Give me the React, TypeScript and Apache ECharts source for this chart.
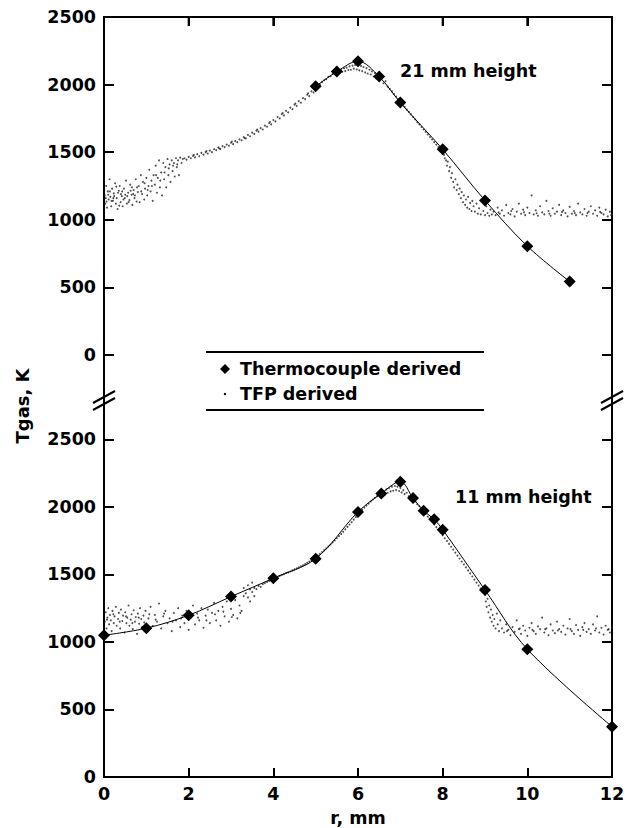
import React, { useEffect, useRef } from "react";
import * as echarts from "echarts";

// Thermocouple derived, 21 mm height: [r (mm), T (K)]
const TC_21: number[][] = [
  [5.0, 1987], [5.5, 2096], [6.0, 2173], [6.5, 2059], [7.0, 1867],
  [8.0, 1521], [9.0, 1143], [10.0, 805], [11.0, 543],
];

// Thermocouple derived, 11 mm height
const TC_11: number[][] = [
  [0, 1050], [1, 1102], [2, 1198], [3, 1336], [4, 1472], [5, 1617],
  [6.0, 1963], [6.55, 2100], [7.0, 2187], [7.3, 2066], [7.55, 1972],
  [7.8, 1908], [8.0, 1832], [9.0, 1385], [10.0, 946], [12.0, 373],
];

// TFP derived, 21 mm height (read from the dot cloud)
const TFP_21: number[][] = [
  [0.02,1180],[0.03,1120],[0.05,1250],[0.07,1090],[0.09,1210],[0.11,1150],[0.13,1300],[0.15,1170],[0.17,1100],[0.19,1230],
  [0.21,1140],[0.23,1195],[0.26,1270],[0.28,1120],[0.3,1160],[0.32,1080],[0.35,1215],[0.37,1250],[0.39,1130],[0.42,1175],
  [0.44,1100],[0.47,1230],[0.49,1160],[0.52,1290],[0.54,1120],[0.57,1200],[0.6,1145],[0.62,1260],[0.65,1185],[0.67,1110],
  [0.7,1220],[0.72,1160],[0.75,1300],[0.77,1135],[0.8,1205],
  [0.04,1160],[0.1,1185],[0.18,1140],[0.24,1175],[0.33,1200],[0.4,1190],[0.46,1150],[0.55,1175],[0.63,1215],[0.69,1190],[0.78,1240],
  [0.06,1135],[0.14,1210],[0.22,1160],[0.29,1245],[0.36,1105],[0.43,1210],[0.5,1185],[0.58,1130],[0.66,1240],[0.73,1180],
  [0.82,1250],[0.84,1130],[0.87,1330],[0.9,1190],[0.92,1280],[0.95,1150],[0.97,1230],[1.0,1310],[1.02,1180],[1.05,1250],
  [1.07,1370],[1.1,1210],[1.12,1290],[1.15,1140],[1.17,1330],[1.2,1260],[1.22,1400],[1.25,1200],[1.27,1310],[1.3,1440],
  [1.32,1240],[1.35,1350],[1.37,1180],[1.4,1420],[1.42,1300],[1.45,1390],[1.47,1240],[1.5,1450],[1.52,1330],[1.55,1410],
  [1.57,1280],[1.6,1440],[1.62,1360],[1.65,1420],[1.67,1320],[1.7,1455],[1.72,1390],[1.75,1440],[1.77,1330],[1.8,1460],
  [1.83,1420],[1.86,1450],
  [0.88,1210],[0.96,1270],[1.03,1220],[1.13,1250],[1.23,1330],[1.33,1290],[1.43,1350],[1.53,1380],[1.63,1400],[1.73,1410],
  [1.9,1455],[1.95,1445],[2.0,1465],[2.05,1455],[2.1,1472],[2.15,1462],[2.2,1485],[2.25,1470],[2.3,1495],[2.35,1482],
  [2.4,1500],[2.45,1490],[2.5,1512],[2.55,1500],[2.6,1522],[2.65,1515],[2.7,1535],[2.75,1525],[2.8,1545],[2.85,1538],
  [2.9,1556],[2.95,1548],[3.0,1570],[3.05,1560],[3.1,1582],[3.15,1575],[3.2,1595],[3.25,1588],[3.3,1612],[3.35,1602],
  [3.4,1628],[3.45,1618],[3.5,1645],[3.55,1636],[3.6,1660],[3.65,1652],[3.7,1678],[3.75,1668],[3.8,1696],[3.85,1688],
  [3.9,1716],[3.95,1706],[4.0,1738],[4.05,1728],[4.1,1760],[4.15,1750],[4.2,1782],[4.25,1772],[4.3,1806],[4.35,1795],
  [4.4,1830],[4.45,1818],[4.5,1852],[4.55,1842],[4.6,1878],[4.65,1866],[4.7,1900],[4.75,1892],[4.8,1925],[4.85,1915],
  [4.9,1950],[4.95,1942],[5.0,1978],
  [2.12,1480],[2.42,1508],[2.72,1527],[3.02,1578],[3.32,1605],[3.62,1668],[3.92,1723],[4.22,1790],[4.52,1860],[4.82,1935],
  [5.05,1995],[5.1,2002],[5.15,2018],[5.2,2032],[5.25,2040],[5.3,2058],[5.35,2062],[5.4,2078],[5.45,2084],[5.5,2095],
  [5.55,2088],[5.6,2108],[5.63,2095],[5.67,2120],[5.7,2100],[5.73,2125],[5.77,2108],[5.8,2135],[5.83,2110],[5.87,2140],
  [5.9,2118],[5.93,2145],[5.97,2112],[6.0,2140],[6.03,2105],[6.07,2138],[6.1,2100],[6.13,2130],[6.17,2090],[6.2,2122],
  [6.23,2082],[6.27,2110],[6.3,2075],[6.33,2098],[6.37,2060],[6.4,2085],[6.43,2045],[6.47,2070],[6.5,2035],[6.55,2050],
  [6.6,2010],[6.65,2025],[6.7,1985],[6.75,1968],[6.8,1950],[6.85,1930],[6.9,1912],[6.95,1892],[7.0,1872],
  [7.05,1852],[7.1,1835],[7.15,1815],[7.2,1798],[7.25,1780],[7.3,1760],[7.35,1742],[7.4,1722],[7.45,1706],[7.5,1686],
  [7.55,1668],[7.6,1650],[7.65,1632],[7.7,1612],[7.75,1595],[7.8,1575],[7.85,1556],[7.9,1538],[7.95,1520],[8.0,1500],
  [8.03,1480],[8.05,1455],[8.08,1440],[8.1,1400],[8.12,1430],[8.15,1360],[8.17,1390],[8.2,1310],[8.22,1345],[8.25,1280],
  [8.27,1240],[8.3,1300],[8.33,1220],[8.35,1260],[8.38,1190],[8.4,1230],[8.43,1160],[8.45,1205],[8.48,1130],[8.5,1180],
  [8.53,1110],[8.55,1150],[8.58,1090],[8.6,1170],[8.63,1080],[8.65,1125],[8.68,1065],[8.7,1140],[8.73,1100],[8.76,1060],
  [8.8,1120],[8.83,1045],[8.86,1085],[8.9,1040],[8.93,1150],[8.96,1065],[9.0,1035],[9.03,1100],[9.06,1050],[9.1,1030],
  [9.13,1075],[9.16,1040],
  [9.2,1060],[9.25,1035],[9.3,1090],[9.35,1045],[9.4,1070],[9.45,1030],[9.5,1110],[9.55,1050],[9.6,1040],[9.65,1080],
  [9.7,1025],[9.75,1060],[9.8,1120],[9.85,1045],[9.9,1075],[9.95,1035],[10.0,1090],[10.05,1050],[10.1,1180],[10.15,1040],
  [10.2,1070],[10.25,1030],[10.3,1100],[10.35,1055],[10.4,1040],[10.45,1140],[10.5,1065],[10.55,1030],[10.6,1085],[10.65,1045],
  [10.7,1060],[10.75,1110],[10.8,1035],[10.85,1070],[10.9,1050],[10.95,1025],[11.0,1095],[11.05,1045],[11.1,1065],[11.15,1035],
  [11.2,1120],[11.25,1055],[11.3,1040],[11.35,1080],[11.4,1030],[11.45,1060],[11.5,1100],[11.55,1045],[11.6,1070],[11.65,1030],
  [11.7,1090],[11.75,1050],[11.8,1040],[11.85,1075],[11.9,1025],[11.95,1060],[12.0,1045],
  [9.32,1055],[9.62,1065],[9.92,1055],[10.22,1048],[10.52,1045],[10.82,1058],[11.12,1050],[11.42,1050],[11.72,1058],[11.98,1035],
];

// TFP derived, 11 mm height
const TFP_11: number[][] = [
  [0.02,1150],[0.04,1220],[0.06,1100],[0.08,1180],[0.1,1250],[0.12,1130],[0.14,1200],[0.16,1160],[0.18,1080],[0.2,1230],
  [0.23,1140],[0.25,1190],[0.28,1260],[0.3,1120],[0.33,1170],[0.35,1215],[0.38,1100],[0.4,1240],[0.43,1155],[0.45,1195],
  [0.48,1070],[0.5,1220],[0.53,1140],[0.55,1180],[0.58,1270],[0.6,1120],[0.63,1165],[0.65,1205],[0.68,1095],[0.7,1235],
  [0.73,1150],[0.75,1185],[0.78,1060],[0.8,1210],[0.83,1135],[0.85,1250],[0.88,1170],[0.9,1110],[0.93,1195],[0.95,1145],
  [0.98,1230],[1.0,1085],[1.05,1175],[1.1,1260],[1.15,1120],[1.2,1200],[1.25,1150],[1.3,1285],[1.35,1100],[1.4,1190],
  [1.45,1230],[1.5,1140],[1.55,1175],[1.6,1080],[1.65,1215],[1.7,1160],[1.75,1250],[1.8,1110],[1.85,1195],[1.9,1140],
  [1.95,1230],[2.0,1090],[2.05,1180],[2.1,1270],[2.15,1130],[2.2,1210],[2.25,1160],[2.3,1250],[2.35,1105],[2.4,1195],
  [2.45,1240],[2.5,1140],[2.55,1215],[2.6,1290],[2.65,1160],[2.7,1230],[2.75,1120],[2.8,1260],[2.85,1190],[2.9,1300],
  [2.95,1150],[3.0,1245],[3.05,1200],[3.1,1310],[3.15,1175],[3.2,1270],[3.25,1230],[3.3,1340],
  [0.07,1165],[0.22,1205],[0.37,1150],[0.52,1190],[0.67,1140],[0.82,1180],[1.07,1205],[1.22,1165],[1.42,1210],[1.62,1150],
  [1.82,1175],[2.02,1200],[2.22,1180],[2.42,1160],[2.62,1205],[2.82,1225],[3.02,1185],[3.22,1215],
  [3.3,1400],[3.4,1420],[3.5,1440],[3.45,1300],[3.55,1340],
  [3.35,1360],[3.4,1330],[3.45,1390],[3.5,1370],[3.55,1400],[3.6,1392],[3.65,1415],[3.7,1408],[3.75,1428],[3.8,1436],
  [3.85,1445],[3.9,1452],[3.95,1460],[4.0,1468],[4.05,1476],[4.1,1482],[4.15,1490],[4.2,1496],[4.25,1502],[4.3,1510],
  [4.35,1515],[4.4,1522],[4.45,1530],[4.5,1538],[4.55,1545],[4.6,1553],[4.65,1560],[4.7,1568],[4.75,1577],[4.8,1586],
  [4.85,1596],[4.9,1605],[4.95,1615],[5.0,1626],
  [5.05,1640],[5.1,1652],[5.15,1666],[5.2,1680],[5.25,1694],[5.3,1708],[5.35,1722],[5.4,1738],[5.45,1752],[5.5,1768],
  [5.55,1784],[5.6,1800],[5.65,1816],[5.7,1834],[5.75,1852],[5.8,1870],[5.85,1888],[5.9,1906],[5.95,1925],[6.0,1945],
  [6.05,1960],[6.1,1978],[6.15,1995],[6.2,2010],[6.25,2025],[6.3,2040],[6.35,2055],[6.4,2068],[6.45,2080],[6.5,2095],
  [6.55,2075],[6.6,2115],[6.63,2090],[6.67,2130],[6.7,2105],[6.73,2140],[6.77,2115],[6.8,2150],[6.83,2120],[6.87,2155],
  [6.9,2125],[6.93,2150],[6.97,2118],[7.0,2140],[7.03,2108],[7.07,2125],[7.1,2095],[7.15,2105],[7.2,2080],[7.25,2075],
  [7.3,2050],[7.35,2040],[7.4,2020],[7.45,2005],[7.5,1985],[7.55,1965],[7.6,1948],[7.65,1928],[7.7,1910],[7.75,1890],
  [7.8,1870],[7.85,1850],[7.9,1830],[7.95,1810],[8.0,1790],
  [8.05,1768],[8.1,1748],[8.15,1726],[8.2,1705],[8.25,1684],[8.3,1662],[8.35,1640],[8.4,1618],[8.45,1596],[8.5,1574],
  [8.55,1552],[8.6,1530],[8.65,1508],[8.7,1485],[8.75,1462],[8.8,1440],[8.85,1418],[8.9,1395],[8.95,1372],[9.0,1350],
  [9.02,1300],[9.04,1260],[9.06,1320],[9.08,1220],[9.1,1270],[9.12,1180],[9.14,1240],[9.16,1150],[9.18,1200],[9.2,1120],
  [9.22,1170],[9.25,1100],[9.28,1210],[9.3,1130],[9.33,1080],[9.36,1160],[9.4,1100],
  [9.45,1070],[9.5,1130],[9.55,1090],[9.6,1050],[9.65,1110],[9.7,1075],[9.75,1160],[9.8,1095],[9.85,1060],[9.9,1120],
  [9.95,1085],[10.0,1045],[10.05,1105],[10.1,1140],[10.15,1080],[10.2,1060],[10.25,1115],[10.3,1095],[10.35,1180],[10.4,1070],
  [10.45,1100],[10.5,1050],[10.55,1130],[10.6,1085],[10.65,1065],[10.7,1150],[10.75,1095],[10.8,1075],[10.85,1120],[10.9,1055],
  [10.95,1100],[11.0,1170],[11.05,1080],[11.1,1060],[11.15,1125],[11.2,1090],[11.25,1045],[11.3,1110],[11.35,1140],[11.4,1075],
  [11.45,1095],[11.5,1060],[11.55,1130],[11.6,1085],[11.65,1190],[11.7,1070],[11.75,1105],[11.8,1055],[11.85,1120],[11.9,1090],
  [11.95,1070],[12.0,1110],
  [9.52,1080],[9.82,1100],[10.12,1090],[10.42,1095],[10.72,1085],[11.02,1095],[11.32,1090],[11.62,1100],[11.92,1095],
];

const Y_TICKS = [0, 500, 1000, 1500, 2000, 2500];
const X_MIN = 0;
const X_MAX = 12;
const X_STEP = 2;
const PANEL_LABELS = ["21 mm height", "11 mm height"];
const LEGEND_LABELS = ["Thermocouple derived", "TFP derived"];
const X_TITLE = "r, mm";
const Y_TITLE = "Tgas, K";

const FONT = "'DejaVu Sans', sans-serif";

// plot frame geometry (pixels)
const PLOT_LEFT = 104;
const PLOT_WIDTH = 508;
const TOP_Y = 17;

export default function App() {
  const ref = useRef<HTMLDivElement>(null);

  useEffect(() => {
    if (!ref.current) return;
    const chart = echarts.init(ref.current, undefined, { renderer: "svg" });

    const mkLine = () => ({ show: true, onZero: false, lineStyle: { color: "#000", width: 2 } });
    const mkTick = (len: number, custom?: number[]) => {
      const t: any = { show: true, inside: true, length: len, lineStyle: { color: "#000", width: 2 } };
      if (custom) t.customValues = custom.slice();
      return t;
    };
    const mkLabel = (custom?: number[]) => {
      const l: any = {
        show: true, margin: 8, color: "#000", fontFamily: FONT, fontWeight: "bold", fontSize: 17.5,
        formatter: (v: number) => String(v),
      };
      if (custom) l.customValues = custom.slice();
      return l;
    };

    const leftY = (grid: number, min: number, max: number) => ({
      type: "value", gridIndex: grid, min, max, position: "left",
      axisLine: mkLine(), splitLine: { show: false },
      axisTick: mkTick(10, Y_TICKS),
      axisLabel: mkLabel(Y_TICKS),
    });
    const rightY = (grid: number, min: number, max: number) => ({
      type: "value", gridIndex: grid, min, max, position: "right",
      axisLine: mkLine(), splitLine: { show: false },
      axisTick: mkTick(10, Y_TICKS),
      axisLabel: { show: false },
    });

    const slash = (cx: number, cy: number) => ({
      type: "line",
      shape: { x1: cx - 11, y1: cy + 6, x2: cx + 11, y2: cy - 6 },
      style: { stroke: "#000", lineWidth: 2 },
      z: 100,
    });

    // top frame of the upper panel as filled rects
    const topFrame: any[] = [
      { type: "rect", shape: { x: PLOT_LEFT - 1, y: TOP_Y - 1, width: PLOT_WIDTH + 2, height: 2 }, style: { fill: "#000" }, z: 100 },
    ];
    for (let k = 1; k < (X_MAX - X_MIN) / X_STEP; k++) {
      topFrame.push({
        type: "rect",
        shape: { x: PLOT_LEFT + (PLOT_WIDTH * k * X_STEP) / (X_MAX - X_MIN) - 1, y: TOP_Y, width: 2, height: 9 },
        style: { fill: "#000" }, z: 100,
      });
    }

    chart.setOption({
      animation: false,
      backgroundColor: "#fff",
      grid: [
        { left: PLOT_LEFT, top: TOP_Y, width: PLOT_WIDTH, height: 383 },
        { left: PLOT_LEFT, top: 400, width: PLOT_WIDTH, height: 378 },
      ],
      xAxis: [
        {
          type: "value", gridIndex: 0, min: X_MIN, max: X_MAX, interval: X_STEP, position: "top",
          axisLine: mkLine(), splitLine: { show: false },
          axisTick: mkTick(9),
          axisLabel: { show: false },
        },
        {
          type: "value", gridIndex: 1, min: X_MIN, max: X_MAX, interval: X_STEP, position: "bottom",
          axisLine: mkLine(), splitLine: { show: false },
          axisTick: mkTick(9),
          axisLabel: mkLabel(),
          name: X_TITLE, nameLocation: "middle", nameGap: 32,
          nameTextStyle: { color: "#000", fontFamily: FONT, fontWeight: "bold", fontSize: 17.5 },
        },
      ],
      yAxis: [
        leftY(0, -333, 2500),
        rightY(0, -333, 2500),
        leftY(1, 0, 2792),
        rightY(1, 0, 2792),
      ],
      series: [
        {
          name: LEGEND_LABELS[1], type: "scatter", xAxisIndex: 0, yAxisIndex: 0,
          data: TFP_21, symbol: "circle", symbolSize: 1.9,
          itemStyle: { color: "#222" }, z: 1,
        },
        {
          name: LEGEND_LABELS[0], type: "line", xAxisIndex: 0, yAxisIndex: 0,
          data: TC_21, smooth: 0.35, symbol: "diamond", symbolSize: 12,
          lineStyle: { color: "#000", width: 1 }, itemStyle: { color: "#000" }, z: 3,
        },
        {
          name: LEGEND_LABELS[1], type: "scatter", xAxisIndex: 1, yAxisIndex: 2,
          data: TFP_11, symbol: "circle", symbolSize: 1.9,
          itemStyle: { color: "#222" }, z: 1,
        },
        {
          name: LEGEND_LABELS[0], type: "line", xAxisIndex: 1, yAxisIndex: 2,
          data: TC_11, smooth: 0.35, symbol: "diamond", symbolSize: 12,
          lineStyle: { color: "#000", width: 1 }, itemStyle: { color: "#000" }, z: 3,
        },
      ],
      graphic: [
        ...topFrame,
        slash(104, 397), slash(104, 404), slash(612, 397), slash(612, 404),
        { type: "line", shape: { x1: 206, y1: 352, x2: 484, y2: 352 }, style: { stroke: "#000", lineWidth: 2 } },
        { type: "line", shape: { x1: 206, y1: 410, x2: 484, y2: 410 }, style: { stroke: "#000", lineWidth: 2 } },
        { type: "polygon", shape: { points: [[225, 364], [230, 369], [225, 374], [220, 369]] }, style: { fill: "#000" } },
        { type: "circle", shape: { cx: 225, cy: 394, r: 1.2 }, style: { fill: "#000" } },
        {
          type: "text", x: 240, y: 369,
          style: { text: LEGEND_LABELS[0], fill: "#000", font: `bold 17.5px ${FONT}`, verticalAlign: "middle" },
        },
        {
          type: "text", x: 240, y: 394,
          style: { text: LEGEND_LABELS[1], fill: "#000", font: `bold 17.5px ${FONT}`, verticalAlign: "middle" },
        },
        {
          type: "text", x: 400, y: 71,
          style: { text: PANEL_LABELS[0], fill: "#000", font: `bold 17.5px ${FONT}`, verticalAlign: "middle" },
        },
        {
          type: "text", x: 455, y: 497,
          style: { text: PANEL_LABELS[1], fill: "#000", font: `bold 17.5px ${FONT}`, verticalAlign: "middle" },
        },
        {
          type: "text", x: 22, y: 406, rotation: Math.PI / 2,
          style: { text: Y_TITLE, fill: "#000", font: `bold 18px ${FONT}`, align: "center", verticalAlign: "middle" },
        },
      ],
    });

    return () => chart.dispose();
  }, []);

  return <div ref={ref} style={{ width: 633, height: 828, position: "absolute", left: 0, top: 0 }} />;
}
